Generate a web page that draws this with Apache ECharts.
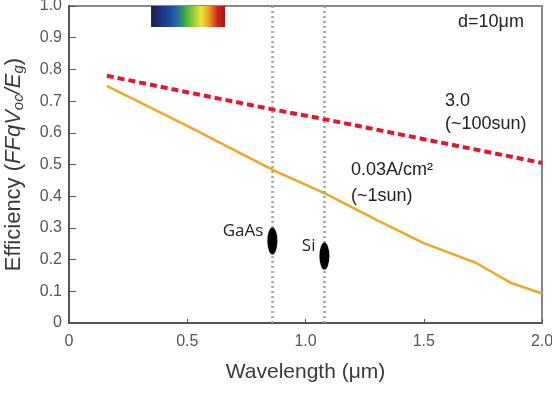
<!DOCTYPE html>
<html>
<head>
    <meta charset="utf-8" />
    <title>Efficiency vs Wavelength</title>
</head>
<body style="margin:0">
<script src="https://cdn.jsdelivr.net/npm/echarts@6.0.0/dist/echarts.min.js"></script>
<div id="main" style="width: 552px;height:405px;"></div>
<script type="text/javascript">
    // data
    var xTickLabels = ['0', '0.5', '1.0', '1.5', '2.0'];
    var yTickLabels = ['0', '0.1', '0.2', '0.3', '0.4', '0.5', '0.6', '0.7', '0.8', '0.9', '1.0'];

    // 0.03 A/cm2 (~1 sun)
    var sunX = [0.16, 0.5, 0.87, 1.08, 1.3, 1.5, 1.72, 1.87, 2.0];
    var sunY = [0.748, 0.622, 0.48, 0.41, 0.325, 0.252, 0.19, 0.126, 0.093];

    // 3.0 A/cm2 (~100 sun)
    var concX = [0.16, 0.5, 0.86, 1.08, 1.5, 2.0];
    var concY = [0.78, 0.728, 0.674, 0.643, 0.58, 0.505];

    // band-gap wavelengths and cell efficiencies
    var cellNames = ['GaAs', 'Si'];
    var cellX = [0.86, 1.08];
    var cellY = [0.259, 0.211];

    // visible spectrum strip
    var spectrumX = [0.347, 0.66];
    var spectrumY = [0.934, 1.0];

    var zip = function (xs, ys) {
        return xs.map(function (x, i) { return [x, ys[i]]; });
    };

    var myChart = echarts.init(document.getElementById('main'));
    var txt = '#3a3a3a';
    var font = 'Liberation Sans, Arial, sans-serif';

    var option = {
        animation: false,
        grid: {
            left: 69, right: 10, top: 6, bottom: 82,
            outerBoundsMode: 'none',
            show: true, borderColor: '#888', borderWidth: 2
        },
        xAxis: {
            type: 'value', min: 0, max: 2, interval: 0.5,
            name: 'Wavelength (μm)',
            nameLocation: 'middle', nameGap: 39,
            nameTextStyle: { fontSize: 21, color: txt, fontFamily: font },
            axisLine: { lineStyle: { color: '#555', width: 2 } },
            axisTick: { inside: true, length: 4, lineStyle: { color: '#555' } },
            axisLabel: {
                margin: 11, fontSize: 16, color: '#555', fontFamily: font,
                formatter: function (v) { return xTickLabels[Math.round(v / 0.5)]; }
            },
            splitLine: { show: false }
        },
        yAxis: {
            type: 'value', min: 0, max: 1, interval: 0.1,
            name: 'Efficiency ({i|FFqV}{s|oc}{i|/E}{s|g})',
            nameLocation: 'middle', nameGap: 43, nameRotate: 90,
            nameTextStyle: {
                fontSize: 22, color: txt, fontFamily: font,
                rich: {
                    i: { fontSize: 22, fontStyle: 'italic', color: txt, fontFamily: font },
                    s: { fontSize: 15, fontStyle: 'italic', color: txt, fontFamily: font, padding: [9, 0, 0, 0] }
                }
            },
            axisLine: { lineStyle: { color: '#555', width: 2 } },
            axisTick: { inside: true, length: 7, lineStyle: { color: '#555' } },
            axisLabel: {
                margin: 7, fontSize: 16, color: '#555', fontFamily: font,
                formatter: function (v) { return yTickLabels[Math.round(v * 10)]; }
            },
            splitLine: { show: false }
        },
        series: [
            {
                name: '1sun', type: 'line', data: zip(sunX, sunY),
                showSymbol: false, smooth: false,
                lineStyle: { color: '#f2a623', width: 2.5 },
                markLine: {
                    silent: true, symbol: 'none', label: { show: false },
                    lineStyle: { color: '#a0a0a0', type: [2, 3], width: 2.5 },
                    data: cellX.map(function (x) { return { xAxis: x }; })
                },
                markArea: {
                    silent: true,
                    itemStyle: {
                        color: new echarts.graphic.LinearGradient(0, 0, 1, 0, [
                            { offset: 0, color: '#1b1c55' },
                            { offset: 0.2, color: '#1f3f8f' },
                            { offset: 0.33, color: '#2360b0' },
                            { offset: 0.45, color: '#3aa648' },
                            { offset: 0.58, color: '#9ccc3a' },
                            { offset: 0.68, color: '#ece434' },
                            { offset: 0.78, color: '#ef9a2a' },
                            { offset: 0.9, color: '#d2231f' },
                            { offset: 1, color: '#9c1a1a' }
                        ])
                    },
                    data: [[
                        { coord: [spectrumX[0], spectrumY[0]] },
                        { coord: [spectrumX[1], spectrumY[1]] }
                    ]]
                }
            },
            {
                name: '100sun', type: 'line', data: zip(concX, concY),
                showSymbol: false,
                lineStyle: { color: '#e8142c', width: 4, type: [7, 4] }
            },
            {
                name: 'cells', type: 'scatter',
                data: cellX.map(function (x, i) { return { value: [x, cellY[i]], name: cellNames[i] }; }),
                symbol: 'circle', symbolSize: [10, 27],
                itemStyle: { color: '#000', opacity: 1 },
                label: {
                    show: true, position: 'left', distance: 4,
                    formatter: '{b}', fontSize: 17, color: '#222',
                    fontFamily: 'Open Sans, sans-serif', offset: [0, -10]
                },
                z: 5
            }
        ],
        graphic: [
            { type: 'text', left: 458, top: 13, style: { text: 'd=10μm', fill: '#222', font: '18px Liberation Sans, Arial' } },
            { type: 'text', left: 445, top: 90, style: { text: '3.0\n(~100sun)', lineHeight: 23, fill: '#222', font: '18px Liberation Sans, Arial' } },
            { type: 'text', left: 351, top: 157, style: { text: '0.03A/cm²\n(~1sun)', lineHeight: 26, fill: '#222', font: '18px Liberation Sans, Arial' } }
        ]
    };

    myChart.setOption(option);
</script>
</body>
</html>
